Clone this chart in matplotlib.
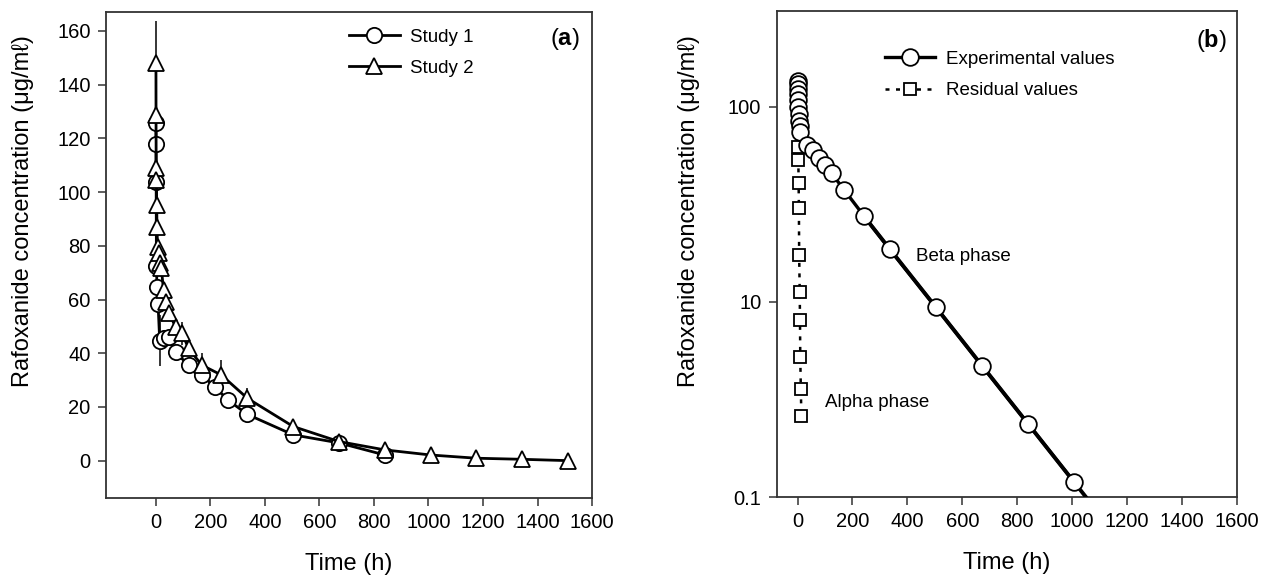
import numpy as np
import matplotlib
matplotlib.use("Agg")
import matplotlib.pyplot as plt

plt.rcParams['font.family'] = ['Liberation Sans', 'DejaVu Sans']
plt.rcParams['mathtext.fontset'] = 'custom'
plt.rcParams['mathtext.rm'] = 'Liberation Sans'
plt.rcParams['mathtext.bf'] = 'Liberation Sans:bold'

# ---- panel (a): two studies, linear scale ----
s1_time = [0.25, 0.5, 1, 2, 4, 8, 14, 30, 48, 72, 120, 168, 216, 264, 336, 504, 672, 840]
s1_conc = [125.6, 117.9, 103.9, 72.5, 64.8, 58.2, 44.7, 45.8, 46.0, 40.3, 35.6, 31.9, 27.5,
           22.6, 17.2, 9.6, 6.6, 2.1]
s1_err = [0, 0, 0, 0, 0, 0, 9.5, 0, 0, 0, 0, 2.0, 0, 0, 0, 0, 0, 0]

s2_time = [0.25, 0.5, 1, 2, 3, 4, 6, 10, 16, 20, 28, 36, 48, 72, 96, 120, 168, 240, 336,
           504, 672, 840, 1008, 1176, 1344, 1512]
s2_conc = [147.9, 128.7, 108.8, 104.5, 95.2, 87.1, 79.7, 77.2, 73.5, 71.6, 63.5, 59.2, 54.9,
           49.9, 47.4, 41.8, 35.6, 31.9, 23.2, 12.7, 7.1, 4.0, 2.1, 0.9, 0.5, 0.0]
s2_err = [16, 0, 0, 0, 0, 0, 0, 0, 0, 0, 0, 0, 0, 0, 4.3, 0, 4.4, 5.6, 3.8,
          0, 0, 0, 0, 0, 0, 0]

# ---- panel (b): experimental and residual values, log scale ----
exp_time = [0.25, 0.5, 1, 1.5, 2, 3, 4, 6, 8, 10, 36, 56, 80, 100, 124, 170, 242, 336,
            504, 672, 840, 1008]
exp_conc = [136, 131, 124, 116, 108, 100, 92, 85, 80, 74.7, 63.8, 60.2, 54.6, 50.5, 45.7,
            37.5, 27.6, 18.6, 9.4, 4.7, 2.37, 1.19]

res_time = [2, 3, 4, 5, 6, 8, 9, 10, 12, 14]
res_conc = [62.0, 53.5, 40.6, 30.2, 17.4, 11.3, 8.1, 5.2, 3.6, 2.6]

x_ticks = list(range(0, 1601, 200))
y_ticks_a = list(range(0, 161, 20))
y_ticks_b = [1, 10, 100]
y_labels_b = ['0.1', '10', '100']

ylabel = 'Rafoxanide concentration (\u03bcg/m\u2113)'
TICK_FS = 14.5
LABEL_FS = 17
SMALL_FS = 13.5
SPINE_C = '#333333'


def style_axes(ax):
    for sp in ax.spines.values():
        sp.set_color(SPINE_C)
        sp.set_linewidth(1.3)
    ax.tick_params(direction='out', length=6, width=1.1, color=SPINE_C,
                   labelsize=TICK_FS, pad=5)
    ax.tick_params(which='minor', length=0)


fig = plt.figure(figsize=(12.68, 5.8), dpi=100)
ax1 = fig.add_axes([0.0836, 0.1419, 0.3833, 0.838])
ax2 = fig.add_axes([0.6125, 0.143, 0.363, 0.838])

# panel a
ax1.errorbar(s1_time, s1_conc, yerr=s1_err, fmt='none', ecolor='black', elinewidth=1.1,
             capsize=0, zorder=2)
ax1.errorbar(s2_time, s2_conc, yerr=s2_err, fmt='none', ecolor='black', elinewidth=1.1,
             capsize=0, zorder=2)
ax1.plot(s1_time, s1_conc, color='black', lw=2.0, marker='o', ms=11, mfc='white',
         mec='black', mew=1.3, label='Study 1', zorder=3)
ax1.plot(s2_time, s2_conc, color='black', lw=2.0, marker='^', ms=11.5, mfc='white',
         mec='black', mew=1.3, label='Study 2', zorder=4)

ax1.set_xlim(-183, 1600)
ax1.set_ylim(-13.8, 167.2)
ax1.set_xticks(x_ticks)
ax1.set_yticks(y_ticks_a)
style_axes(ax1)
ax1.set_xlabel('Time (h)', fontsize=LABEL_FS, labelpad=15)
ax1.set_ylabel(ylabel, fontsize=LABEL_FS)
ax1.yaxis.set_label_coords(-0.148, 0.59)
ax1.legend(loc='upper left', bbox_to_anchor=(0.5, 0.965), frameon=False,
           fontsize=SMALL_FS, handlelength=2.7, handletextpad=0.55,
           labelspacing=0.75, borderpad=0, borderaxespad=0)
ax1.text(0.975, 0.944, r'($\mathbf{a}$)', transform=ax1.transAxes, ha='right',
         va='center', fontsize=17)

# panel b
ax2.set_yscale('log')
ax2.plot(res_time, res_conc, color='black', lw=1.8, ls=(0, (1.6, 2.6)), marker='s',
         ms=8.5, mfc='white', mec='black', mew=1.3, label='Residual values', zorder=3)

# beta phase fit through the terminal points, drawn past the last sample
t_arr = np.array(exp_time, dtype=float)
c_arr = np.array(exp_conc, dtype=float)
beta = t_arr >= 240
slope, icpt = np.polyfit(t_arr[beta], np.log10(c_arr[beta]), 1)
t_fit = np.array([t_arr[beta][0], 1100.0])
ax2.plot(t_fit, 10 ** (icpt + slope * t_fit), color='black', lw=2.8, zorder=4)

ax2.plot(exp_time, exp_conc, color='black', lw=2.4, marker='o', ms=12, mfc='white',
         mec='black', mew=1.3, label='Experimental values', zorder=5)

ax2.set_xlim(-76, 1600)
ax2.set_ylim(1, 310)
ax2.set_xticks(x_ticks)
ax2.set_yticks(y_ticks_b)
ax2.set_yticklabels(y_labels_b)
ax2.yaxis.set_minor_locator(matplotlib.ticker.NullLocator())
style_axes(ax2)
ax2.set_xlabel('Time (h)', fontsize=LABEL_FS, labelpad=15)
ax2.set_ylabel(ylabel, fontsize=LABEL_FS)
ax2.yaxis.set_label_coords(-0.167, 0.588)

h, l = ax2.get_legend_handles_labels()
ax2.legend(h[::-1], l[::-1], loc='upper left', bbox_to_anchor=(0.235, 0.918),
           frameon=False, fontsize=SMALL_FS, handlelength=2.7, handletextpad=0.55,
           labelspacing=0.75, borderpad=0, borderaxespad=0)
ax2.text(0.978, 0.94, r'($\mathbf{b}$)', transform=ax2.transAxes, ha='right',
         va='center', fontsize=17)
ax2.text(431, 17.2, 'Beta phase', fontsize=SMALL_FS, ha='left', va='center')
ax2.text(100, 3.05, 'Alpha phase', fontsize=SMALL_FS, ha='left', va='center')

fig.savefig('out.png', dpi=100)
